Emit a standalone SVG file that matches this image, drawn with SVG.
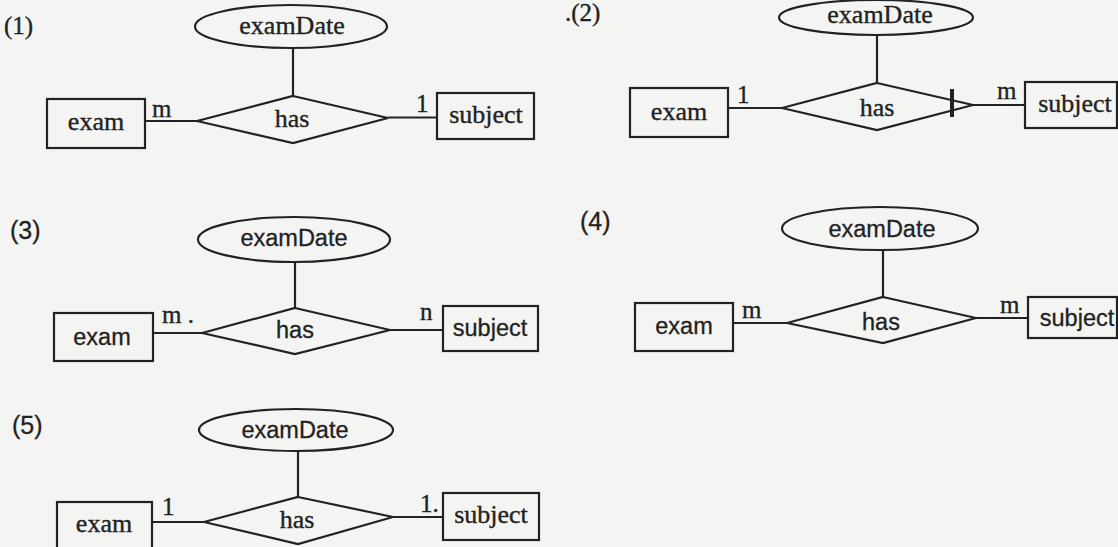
<svg xmlns="http://www.w3.org/2000/svg" width="1118" height="547" viewBox="0 0 1118 547">
<style>
.bg{fill:#f4f4f2}
.sh{fill:none;stroke:#222;stroke-width:2.2}
.ln{stroke:#222;stroke-width:2.2;fill:none}
.serif{font-family:"Liberation Serif","Times New Roman",serif;fill:#222;stroke:#222;stroke-width:0.35}
.sans{font-family:"Liberation Sans",Arial,sans-serif;fill:#222;stroke:#222;stroke-width:0.3}
.t{font-size:26px;text-anchor:middle}
.ts{font-size:23.5px;text-anchor:middle}
.c{font-size:25px}
</style>
<rect class="bg" x="0" y="0" width="1118" height="547"/>

<g id="diagram1">
  <text id="label1" class="serif c" x="4" y="34">(1)</text>
  <g id="d1-examDate"><ellipse class="sh" cx="291" cy="26.5" rx="96" ry="21.5"/><text class="serif t" x="292" y="34">examDate</text></g>
  <g id="d1-exam"><rect class="sh" x="47" y="99" width="98" height="49"/><text class="serif t" x="96" y="130">exam</text></g>
  <g id="d1-has"><polygon class="sh" points="293,96 388,118 293,143 197,121"/><text class="serif t" x="292" y="127">has</text></g>
  <g id="d1-subject"><rect class="sh" x="437" y="93" width="97" height="46"/><text class="serif t" x="486" y="123">subject</text></g>
  <g id="d1-connectors">
    <line class="ln" x1="293" y1="48" x2="293" y2="96"/>
    <line class="ln" x1="145" y1="121" x2="197" y2="121"/>
    <line class="ln" x1="388" y1="117.5" x2="437" y2="117.5"/>
    <text class="serif c" x="152" y="117">m</text>
    <text class="serif c" x="416" y="112">1</text>
  </g>
</g>

<g id="diagram2">
  <text id="label2" class="serif c" x="565" y="21">.(2)</text>
  <g id="d2-examDate"><ellipse class="sh" cx="876" cy="17.5" rx="97" ry="17.5"/><text class="serif t" x="880" y="23">examDate</text></g>
  <g id="d2-exam"><rect class="sh" x="630" y="88" width="98" height="49"/><text class="serif t" x="679" y="120">exam</text></g>
  <g id="d2-has"><polygon class="sh" points="877,83 973,105 877,130 782,108"/><text class="serif t" x="877" y="116">has</text></g>
  <g id="d2-subject"><rect class="sh" x="1025" y="82" width="92" height="46"/><text class="serif t" x="1075" y="112">subject</text></g>
  <g id="d2-connectors">
    <line class="ln" x1="877" y1="35" x2="877" y2="83"/>
    <line class="ln" x1="728" y1="108" x2="782" y2="108"/>
    <line class="ln" x1="973" y1="105" x2="1025" y2="105"/>
    <line stroke="#222" stroke-width="4" x1="952" y1="89" x2="952" y2="117"/>
    <text class="serif c" x="737" y="103">1</text>
    <text class="serif c" x="997" y="99">m</text>
  </g>
</g>

<g id="diagram3">
  <text id="label3" class="sans c" x="10" y="239">(3)</text>
  <g id="d3-examDate"><ellipse class="sh" cx="294" cy="239.5" rx="96" ry="22.5"/><text class="sans ts" x="294" y="246">examDate</text></g>
  <g id="d3-exam"><rect class="sh" x="54" y="313" width="99" height="48"/><text class="sans ts" x="102" y="345">exam</text></g>
  <g id="d3-has"><polygon class="sh" points="295,308 390,330 295,354 202,333"/><text class="sans ts" x="295" y="338">has</text></g>
  <g id="d3-subject"><rect class="sh" x="443" y="306" width="95" height="45"/><text class="sans ts" x="490" y="336">subject</text></g>
  <g id="d3-connectors">
    <line class="ln" x1="295" y1="262" x2="295" y2="308"/>
    <line class="ln" x1="153" y1="333" x2="202" y2="333"/>
    <line class="ln" x1="390" y1="330" x2="443" y2="330"/>
    <text class="serif c" x="162" y="323">m .</text>
    <text class="serif c" x="420" y="320">n</text>
  </g>
</g>

<g id="diagram4">
  <text id="label4" class="sans c" x="580" y="230">(4)</text>
  <g id="d4-examDate"><ellipse class="sh" cx="880" cy="228.5" rx="98" ry="21.5"/><text class="sans ts" x="882" y="237">examDate</text></g>
  <g id="d4-exam"><rect class="sh" x="635" y="303" width="98" height="48"/><text class="sans ts" x="684" y="334">exam</text></g>
  <g id="d4-has"><polygon class="sh" points="883,297 976,318 883,343 787,323"/><text class="sans ts" x="881" y="330">has</text></g>
  <g id="d4-subject"><rect class="sh" x="1028" y="297" width="89" height="41"/><text class="sans ts" x="1077" y="326">subject</text></g>
  <g id="d4-connectors">
    <line class="ln" x1="883" y1="250" x2="883" y2="297"/>
    <line class="ln" x1="733" y1="323" x2="787" y2="323"/>
    <line class="ln" x1="976" y1="318" x2="1028" y2="318"/>
    <text class="serif c" x="742" y="318">m</text>
    <text class="serif c" x="1000" y="313">m</text>
  </g>
</g>

<g id="diagram5">
  <text id="label5" class="sans c" x="12" y="434">(5)</text>
  <g id="d5-examDate"><ellipse class="sh" cx="296" cy="430" rx="97" ry="21"/><text class="sans ts" x="295" y="438">examDate</text></g>
  <g id="d5-exam"><rect class="sh" x="57" y="502" width="95" height="52"/><text class="serif t" x="104" y="532">exam</text></g>
  <g id="d5-has"><polygon class="sh" points="298,497 393,517 298,544 204,522"/><text class="serif t" x="297" y="528">has</text></g>
  <g id="d5-subject"><rect class="sh" x="443" y="493" width="96" height="47"/><text class="serif t" x="491" y="523">subject</text></g>
  <g id="d5-connectors">
    <line class="ln" x1="298" y1="451" x2="298" y2="497"/>
    <line class="ln" x1="152" y1="522" x2="204" y2="522"/>
    <line class="ln" x1="393" y1="517" x2="443" y2="517"/>
    <text class="serif c" x="162" y="515">1</text>
    <text class="serif c" x="420" y="512">1.</text>
  </g>
</g>
</svg>
